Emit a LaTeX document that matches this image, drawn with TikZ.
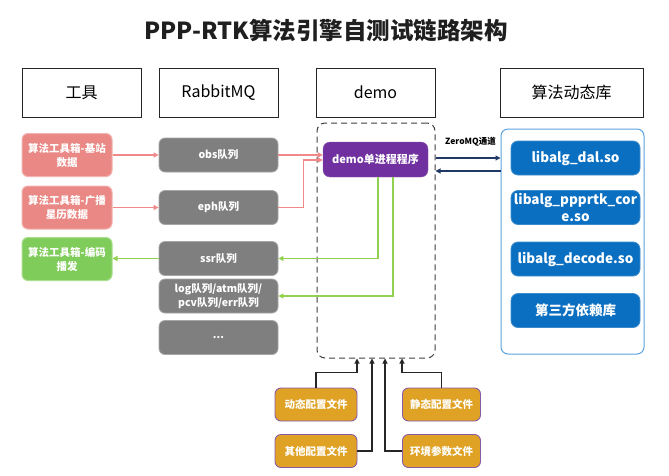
\documentclass[tikz,border=0pt]{standalone}
\usepackage{fontspec}
\setmainfont{Noto Sans CJK SC}
\usetikzlibrary{arrows.meta,calc}
\definecolor{salmon}{HTML}{E98884}
\definecolor{salmonb}{HTML}{F3B3B0}
\definecolor{grn}{HTML}{80CC5A}
\definecolor{grnb}{HTML}{A9DE8E}
\definecolor{gry}{HTML}{7F7F7F}
\definecolor{gryb}{HTML}{A6A6A6}
\definecolor{purp}{HTML}{7030A0}
\definecolor{blu}{HTML}{0B6FC1}
\definecolor{lblue}{HTML}{5BA3E0}
\definecolor{gold}{HTML}{DFA225}
\definecolor{goldb}{HTML}{8A5AA8}
\definecolor{redln}{HTML}{F08A8A}
\definecolor{grnln}{HTML}{92D050}
\definecolor{navy}{HTML}{1F3864}
\begin{document}
\begin{tikzpicture}[x=1pt,y=-1pt,
  hdr/.style={draw=black!85, line width=0.8pt, minimum width=119pt, minimum height=49pt,
    font=\fontsize{16}{18}\selectfont, inner sep=0pt},
  tool/.style={rounded corners=6pt, minimum width=90pt, minimum height=43pt, text=white,
    font=\bfseries\fontsize{10.5}{14}\selectfont, align=center, inner sep=0pt, line width=1pt},
  redtool/.style={tool, fill=salmon, draw=salmonb},
  grntool/.style={tool, fill=grn, draw=grnb},
  queue/.style={rounded corners=6pt, minimum width=119pt, minimum height=34pt, text=white,
    fill=gry, draw=gryb, line width=0.8pt, font=\bfseries\fontsize{10.5}{13.5}\selectfont,
    align=center, inner sep=0pt},
  libbox/.style={rounded corners=7pt, minimum width=129pt, minimum height=34pt, text=white,
    fill=blu, draw=blu!80!white, line width=0.8pt, font=\bfseries\fontsize{13.5}{17}\selectfont,
    align=center, inner sep=0pt},
  cfg/.style={rounded corners=6pt, minimum width=80pt, minimum height=33pt, text=white,
    fill=gold, draw=goldb, line width=0.9pt, font=\bfseries\fontsize{10.5}{13}\selectfont,
    inner sep=0pt},
  redar/.style={draw=redln, line width=1.2pt, -{Triangle[length=5pt,width=5pt]}},
  grnar/.style={draw=grnln, line width=1.2pt, -{Triangle[length=5pt,width=5pt]}},
  navar/.style={draw=navy, line width=1.1pt, -{Triangle[length=5pt,width=5pt]}},
  cfgar/.style={draw=black!85, line width=1.1pt, -{Triangle[length=5pt,width=5pt]}}
]
\fill[white] (0,0) rectangle (669,475);
\useasboundingbox (0,0) rectangle (669,475);

\node[font=\bfseries\fontsize{23.5}{27}\selectfont, text=black!88] (title) at (326,30) {PPP-RTK算法引擎自测试链路架构};

% headers
\node[hdr] (h1) at (81.5,92.5) {工具};
\node[hdr] (h2) at (218.5,92.5) {RabbitMQ};
\node[hdr] (h3) at (375.5,92.5) {demo};
\node[hdr, minimum width=143pt] (h4) at (571.5,92.5) {算法动态库};

% tools
\node[redtool] (t1) at (67,155) {算法工具箱-基站\\数据};
\node[redtool] (t2) at (67,207.5) {算法工具箱-广播\\星历数据};
\node[grntool] (t3) at (67,259) {算法工具箱-编码\\播发};

% queues
\node[queue] (obs) at (218.5,155) {obs队列};
\node[queue] (eph) at (218.5,207.5) {eph队列};
\node[queue] (ssr) at (218.5,258.5) {ssr队列};
\node[queue] (logq) at (218.5,296) {log队列/atm队列/\\pcv队列/err队列};
\node[queue] (more) at (218.5,337.5) {...};

% demo
\node[draw=black!75, dashed, dash pattern=on 6pt off 4pt, line width=1pt, rounded corners=8pt,
  minimum width=118pt, minimum height=235pt] (demobox) at (376,240.5) {};
\node[rounded corners=7pt, fill=purp, draw=purp!80!white, text=white, minimum width=105pt,
  minimum height=35pt, inner sep=0pt, font=\bfseries\fontsize{11}{13}\selectfont] (demo) at (375.5,159.5) {demo单进程程序};

% libs
\node[draw=lblue, line width=1pt, rounded corners=7pt, minimum width=143pt, minimum height=225pt,
  fill=white] (libc) at (572.5,241.5) {};
\node[libbox] (dal) at (575.5,158) {libalg\_dal.so};
\node[libbox] (core) at (575.5,207.5) {libalg\_ppprtk\_cor\\e.so};
\node[libbox] (dec) at (575.5,259) {libalg\_decode.so};
\node[libbox] (third) at (575.5,310.5) {第三方依赖库};

% configs
\node[cfg, minimum width=82pt] (dyn) at (316,404.5) {动态配置文件};
\node[cfg, minimum width=78pt] (sta) at (441.5,404.5) {静态配置文件};
\node[cfg, minimum width=82pt] (oth) at (316,451) {其他配置文件};
\node[cfg, minimum width=78pt] (env) at (441.5,451) {环境参数文件};

% red arrows
\draw[redar] (t1.east) -- (obs.west);
\draw[redar] (t2.east) -- (eph.west);
\draw[redar] (obs.east) -- (obs.east -| demo.west);
\draw[redar] (eph.east) -- ++(25,0) |- ($(demo.west)+(0,0.5)$);

% green arrows
\draw[grnar] ($(demo.south)+(2.5,0)$) |- (ssr.east);
\draw[grnar] ($(demo.south)+(17.5,0)$) |- (logq.east);
\draw[grnar] (ssr.west) -- (ssr.west -| t3.east);

% ZeroMQ
\draw[navar] (demobox.east |- dal) -- (libc.west |- dal);
\draw[navar] ($(libc.west |- dal)+(0,13)$) -- ($(demobox.east |- dal)+(0,13)$);
\node[font=\bfseries\fontsize{8.5}{10}\selectfont, inner sep=0pt] (zmq) at (470.5,142) {ZeroMQ通道};

% config arrows
\draw[cfgar] (dyn.north) |- ($(demobox.south)+(-19,14)$) -- ($(demobox.south)+(-19,0)$);
\draw[cfgar] (sta.north) |- ($(demobox.south)+(26,14)$) -- ($(demobox.south)+(26,0)$);
\draw[cfgar] (oth.east) -| ($(demobox.south)+(-4,0)$);
\draw[cfgar] (env.west) -| ($(demobox.south)+(9,0)$);
\end{tikzpicture}
\end{document}
